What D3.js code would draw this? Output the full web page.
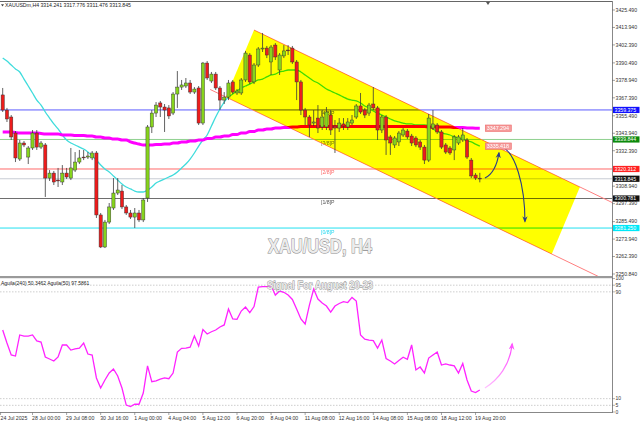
<!DOCTYPE html>
<html><head><meta charset="utf-8">
<script src="https://cdn.jsdelivr.net/npm/d3@7"></script>
<style>
body{margin:0;background:#fff;}
svg{display:block;font-family:"Liberation Sans",Arial,sans-serif;}
</style></head><body>
<svg id="c" width="640" height="427"></svg>
<script>
// ---------- DATA ----------
const opens = [3369.3,3359.3,3354.7,3344.1,3326.9,3337.5,3328.2,3334.2,3344.1,3334.8,3336.2,3314.3,3317.6,3313.0,3311.7,3317.6,3314.3,3319.6,3324.9,3328.2,3328.2,3327.6,3330.9,3289.9,3268.7,3285.2,3294.5,3304.4,3305.7,3295.2,3291.2,3288.5,3291.2,3286.6,3301.1,3348.1,3357.3,3364.0,3361.3,3360.7,3357.3,3369.9,3374.5,3375.2,3377.2,3371.2,3373.9,3350.7,3390.4,3378.5,3383.1,3373.9,3365.9,3367.9,3377.9,3370.6,3370.6,3379.2,3395.7,3377.9,3389.1,3399.7,3400.3,3391.1,3402.3,3385.8,3395.1,3399.0,3400.3,3391.1,3377.9,3359.3,3354.7,3350.7,3354.0,3348.1,3348.1,3356.0,3348.7,3347.4,3350.1,3348.1,3350.7,3354.7,3362.0,3359.3,3357.3,3363.3,3360.7,3346.1,3354.7,3341.5,3336.2,3338.2,3342.8,3345.4,3342.1,3340.8,3338.2,3334.8,3326.2,3347.4,3349.4,3344.8,3336.2,3334.2,3332.9,3337.5,3339.5,3339.5,3326.2,3316.3,3314.241];
const highs = [3373.9,3360.7,3356.0,3345.4,3339.5,3338.8,3335.5,3346.1,3346.1,3338.8,3337.5,3319.6,3319.0,3321.0,3322.9,3321.0,3334.2,3331.5,3332.9,3332.9,3331.5,3332.2,3332.2,3291.2,3286.6,3297.8,3314.3,3314.3,3309.7,3296.5,3293.2,3294.5,3293.2,3301.1,3349.4,3359.3,3364.6,3365.3,3363.3,3362.6,3371.2,3385.1,3379.2,3380.5,3379.2,3374.5,3375.2,3391.1,3391.7,3384.5,3384.5,3375.2,3371.2,3379.2,3379.2,3373.2,3380.5,3398.4,3397.0,3390.4,3401.0,3410.3,3401.7,3402.3,3403.6,3397.0,3402.3,3402.3,3401.7,3392.4,3379.2,3360.7,3356.0,3359.3,3362.6,3359.3,3361.3,3359.3,3352.7,3354.0,3354.0,3354.0,3356.0,3363.3,3370.6,3360.7,3364.0,3374.5,3362.0,3356.0,3356.0,3342.8,3342.1,3345.4,3347.4,3346.8,3343.5,3342.1,3339.5,3336.2,3356.7,3359.3,3350.7,3346.1,3337.5,3335.5,3342.8,3342.8,3347.4,3340.8,3327.6,3317.6,3317.776];
const lows = [3358.0,3351.4,3339.5,3324.9,3325.6,3334.8,3323.6,3332.9,3332.9,3333.5,3301.8,3312.4,3309.7,3308.4,3309.7,3313.7,3313.0,3318.3,3323.6,3326.2,3326.9,3326.2,3287.9,3268.0,3268.0,3283.9,3293.2,3303.1,3293.8,3289.9,3287.2,3281.3,3285.2,3285.2,3298.5,3344.1,3354.7,3354.7,3344.8,3353.4,3356.0,3360.7,3372.6,3373.9,3369.9,3369.9,3349.4,3349.4,3379.2,3377.2,3372.6,3359.3,3363.3,3365.9,3369.9,3369.3,3369.3,3377.9,3376.5,3376.5,3387.8,3397.7,3393.7,3382.5,3392.4,3382.5,3393.7,3395.7,3389.8,3365.9,3356.0,3349.4,3341.5,3348.7,3344.1,3346.1,3346.1,3342.8,3330.9,3344.8,3346.1,3346.1,3349.4,3353.4,3356.7,3354.0,3355.4,3359.3,3339.5,3344.1,3329.6,3329.6,3334.2,3335.5,3341.5,3340.1,3335.5,3334.8,3332.9,3323.6,3324.9,3346.1,3343.5,3333.5,3330.2,3329.6,3326.2,3336.2,3338.2,3326.9,3314.3,3313.0,3311.476];
const closes = [3359.3,3353.4,3341.5,3327.6,3337.5,3336.2,3334.2,3344.1,3334.8,3337.5,3314.3,3317.6,3311.7,3312.4,3317.6,3315.0,3321.0,3324.9,3327.6,3328.0,3328.9,3330.9,3289.9,3268.7,3285.2,3295.2,3304.4,3306.4,3295.2,3291.2,3288.5,3291.2,3286.6,3299.8,3348.1,3357.3,3362.6,3361.3,3359.3,3355.4,3369.9,3374.5,3375.9,3377.2,3371.2,3373.2,3350.7,3390.4,3380.5,3383.1,3373.9,3365.9,3367.9,3377.2,3371.2,3371.9,3379.2,3397.0,3377.9,3389.1,3399.7,3400.3,3395.7,3401.0,3394.4,3395.7,3398.4,3398.8,3391.1,3377.9,3359.3,3354.7,3349.4,3351.4,3347.4,3354.7,3358.0,3346.1,3347.4,3350.7,3348.7,3351.4,3352.7,3362.0,3358.0,3356.0,3362.6,3360.7,3346.1,3354.7,3339.5,3337.5,3340.8,3344.1,3346.1,3341.5,3337.5,3336.2,3334.8,3326.2,3354.0,3350.1,3344.8,3334.8,3331.5,3330.9,3341.5,3341.5,3342.8,3328.2,3315.7,3314.3,3313.845];
const maFast = [3393.7,3391.7,3389.1,3386.5,3384.5,3379.8,3375.2,3370.6,3365.9,3362.6,3358.0,3354.0,3350.1,3346.8,3342.8,3339.5,3337.5,3336.2,3334.8,3333.5,3331.5,3328.9,3326.2,3322.9,3320.3,3318.3,3315.7,3313.0,3310.4,3308.4,3307.1,3305.7,3305.1,3305.1,3306.4,3308.4,3311.0,3312.4,3313.7,3315.0,3316.3,3318.3,3321.0,3323.6,3326.9,3330.9,3335.5,3339.5,3342.8,3348.7,3354.7,3360.0,3364.6,3367.9,3369.9,3371.9,3373.9,3375.2,3376.5,3377.9,3379.2,3379.8,3381.2,3382.5,3383.1,3384.5,3385.1,3385.8,3385.8,3385.8,3384.5,3382.5,3380.5,3378.5,3377.2,3375.2,3373.2,3371.9,3370.6,3369.3,3367.9,3366.6,3365.9,3365.3,3364.0,3362.0,3360.7,3358.7,3357.3,3356.0,3354.7,3353.4,3352.1,3351.4,3350.7,3350.1,3350.1,3349.4,3349.4,3349.4,3348.7,3346.8,3345.4,3344.1,3343.5,3342.8,3341.5,3340.8,3340.1,3338.8,3338.2,3336.8,3335.4];
const maSlow = [3344.8,3344.8,3344.8,3344.4,3344.1,3344.1,3344.1,3344.1,3344.1,3343.8,3343.5,3343.5,3343.5,3343.5,3342.8,3342.8,3342.8,3342.5,3342.5,3342.5,3342.1,3342.1,3341.5,3341.5,3340.8,3340.8,3340.1,3340.1,3339.5,3339.5,3338.2,3337.5,3336.8,3336.2,3336.2,3336.2,3336.5,3336.5,3336.8,3336.8,3337.5,3337.5,3338.2,3338.2,3338.8,3338.8,3339.5,3339.5,3340.5,3340.5,3341.5,3341.5,3342.1,3342.1,3343.1,3343.1,3344.1,3344.1,3345.1,3345.1,3346.1,3346.1,3346.8,3346.8,3347.4,3347.4,3347.7,3347.7,3348.1,3348.1,3348.4,3348.4,3348.4,3348.4,3348.4,3348.4,3348.4,3348.4,3348.4,3348.4,3348.4,3348.4,3348.4,3348.4,3348.4,3348.4,3348.4,3348.4,3348.4,3348.4,3348.4,3348.4,3348.4,3348.4,3348.4,3348.4,3348.4,3348.4,3348.4,3348.4,3348.1,3348.1,3348.1,3348.1,3348.1,3348.1,3347.7,3347.7,3347.7,3347.5,3347.4,3347.3,3347.294];
const osc = [61.4,51.7,42.7,41.9,57.7,56.9,56.9,57.7,53.2,52.4,41.2,39.7,38.2,41.2,50.2,50.2,46.4,47.2,47.9,51.7,43.4,42.7,25.5,18.0,24.0,29.2,32.2,27.0,18.0,5.2,4.1,5.8,5.8,14.2,34.5,22.7,23.4,24.7,25.5,24.9,29.2,44.9,47.7,47.9,48.5,56.9,49.4,61.8,58.4,60.1,61.4,63.7,65.2,77.1,69.7,69.4,75.6,78.6,74.5,79.0,93.6,93.9,93.9,94.7,87.6,90.6,89.7,87.6,84.3,77.1,69.7,65.9,80.1,92.1,84.6,81.6,79.4,74.9,79.4,81.3,82.6,82.0,85.8,83.1,57.7,54.5,53.9,53.4,47.9,53.9,40.1,38.2,36.0,38.6,41.0,39.5,50.2,31.5,33.7,29.2,40.4,42.7,44.9,35.2,36.0,35.2,34.5,29.2,36.3,24.0,15.7,14.5,16.5];
const priceTicks = ["3425.490","3413.940","3402.390","3390.490","3378.940","3367.390","3355.490","3343.940","3332.390","3308.940","3297.390","3285.490","3273.940","3262.390","3250.840"];
const timeLabels = ["24 Jul 2025","28 Jul 00:00","29 Jul 08:00","30 Jul 16:00","1 Aug 00:00","4 Aug 04:00","5 Aug 12:00","6 Aug 20:00","8 Aug 04:00","11 Aug 08:00","12 Aug 16:00","14 Aug 08:00","15 Aug 08:00","18 Aug 12:00","19 Aug 20:00"];
const timeLabelBars = [-0.5,7,15,23,31,39,47,55,63,71,79,87,95,103,111];
const murrayLevels = [3359.375,3339.844,3320.312,3300.781,3281.250];
const murrayNames = ["[4/8]P","[3/8]P","[2/8]P","[1/8]P","[0/8]P"];
const murrayColors = ["#5b5bff","#8fd08f","#ff6a6a","#6e6e6e","#22e0f0"];
const murrayTextColors = ["#5b5bff","#777777","#ff6a6a","#555555","#22d8f0"];
const murrayLabelBg = ["#1010ff","#0b8a0b","#ff2020","#111111","#00e8f8"];
const lastPrice = 3313.845;
const oscLevels = [95,90,10,5];
const oscTicks = [100,95,90,10,5,0];
// channel anchors: [bar, price]
const chanA = [59, 3412.25], chanB = [135.5, 3308.4], chanD = [52.4, 3367.9];
const lowerLineStartBar = 48.7;
// arrows [bar, price]
const arrowUp = [[113.2,3314.3],[115.8,3318.0],[116.5,3331.0]];
const arrowDown = [[117.2,3334.8],[120.3,3331.5],[122.6,3309.7],[122.6,3285.6]];
const oscArrow = [[113.2,18],[116.3,24],[119.1,35],[119.6,51]];

// ---------- SCALES ----------
const svg = d3.select("#c");
const N = closes.length;
const PR = 612;
const x = d3.scaleLinear().domain([0, 112]).range([2.7, 479.8]);
const y = d3.scaleLinear().domain([3250.84, 3425.49]).range([274, 10]);
const yo = d3.scaleLinear().domain([0, 100]).range([412, 278.5]);

const defs = svg.append("defs");
defs.append("clipPath").attr("id","cm").append("rect").attr("x",0).attr("y",2).attr("width",PR).attr("height",274);
defs.append("clipPath").attr("id","co").append("rect").attr("x",0).attr("y",279).attr("width",PR).attr("height",133);
const mk = (id,col)=>defs.append("marker").attr("id",id).attr("viewBox","0 0 10 10").attr("refX",8).attr("refY",5)
  .attr("markerWidth",6).attr("markerHeight",6).attr("orient","auto-start-reverse")
  .append("path").attr("d","M0,1 L10,5 L0,9 L3,5 Z").attr("fill",col);
mk("ab","#2b3f86"); mk("ap","#ff55ff");
const gr = defs.append("linearGradient").attr("id","pg").attr("x1","0").attr("y1","1").attr("x2","1").attr("y2","0");
gr.append("stop").attr("offset","0").attr("stop-color","#ffc4ff");
gr.append("stop").attr("offset","1").attr("stop-color","#ff44ff");

svg.append("rect").attr("width",640).attr("height",427).attr("fill","#fff");

// ---------- MAIN PANEL ----------
const main = svg.append("g").attr("clip-path","url(#cm)");
murrayLevels.forEach((p,k)=>{
  main.append("line").attr("x1",0).attr("x2",PR).attr("y1",y(p)).attr("y2",y(p))
    .attr("stroke",murrayColors[k]).attr("stroke-width",1);
});
main.append("line").attr("x1",0).attr("x2",PR).attr("y1",y(lastPrice)).attr("y2",y(lastPrice))
  .attr("stroke","#c8ccd4").attr("stroke-width",1);
murrayLevels.forEach((p,k)=>{
  main.append("text").attr("x",321).attr("y",y(p)+5.5).attr("font-size",5.2)
    .attr("fill",murrayTextColors[k]).text(murrayNames[k]);
});
const slope = (chanB[1]-chanA[1])/(chanB[0]-chanA[0]);
const topEnd = 150, lowEnd = 150;
main.append("line").attr("x1",x(chanA[0])).attr("y1",y(chanA[1]))
  .attr("x2",x(topEnd)).attr("y2",y(chanA[1]+slope*(topEnd-chanA[0])))
  .attr("stroke","#ff7f7f").attr("stroke-width",1);
main.append("line").attr("x1",x(lowerLineStartBar)).attr("y1",y(chanD[1]+slope*(lowerLineStartBar-chanD[0])))
  .attr("x2",x(lowEnd)).attr("y2",y(chanD[1]+slope*(lowEnd-chanD[0])))
  .attr("stroke","#ff7f7f").attr("stroke-width",1);
const lineGen = d3.line().x((d,i)=>x(i)).y(d=>y(d)).curve(d3.curveMonotoneX);
main.append("path").attr("d",lineGen(maFast)).attr("fill","none").attr("stroke","#3fdcdc").attr("stroke-width",1.3);
main.append("path").attr("d",lineGen(maSlow)).attr("fill","none").attr("stroke","#ff00ff").attr("stroke-width",3);
const chanC = [chanB[0]+chanD[0]-chanA[0], chanB[1]+chanD[1]-chanA[1]];
main.append("polygon").attr("points",[chanA,chanB,chanC,chanD].map(d=>x(d[0])+","+y(d[1])).join(" "))
  .attr("fill","#ffff00").style("mix-blend-mode","multiply");
const cg = main.append("g").selectAll("g").data(d3.range(N)).join("g");
cg.append("line").attr("x1",i=>x(i)).attr("x2",i=>x(i)).attr("y1",i=>y(highs[i])).attr("y2",i=>y(lows[i]))
  .attr("stroke","#3a3a3a").attr("stroke-width",0.8);
cg.append("rect").attr("x",i=>x(i)-1.6).attr("width",3.2)
  .attr("y",i=>y(Math.max(opens[i],closes[i])))
  .attr("height",i=>Math.max(0.8,Math.abs(y(opens[i])-y(closes[i]))))
  .attr("fill",i=>closes[i]>=opens[i]?"#86d41c":"#ec1c1c").attr("stroke","#333").attr("stroke-width",0.45);
const P = d=>[x(d[0]),y(d[1])];
const a1=arrowUp.map(P), a2=arrowDown.map(P);
main.append("path").attr("d",`M${a1[0]} Q${a1[1]} ${a1[2]}`).attr("fill","none").attr("stroke","#2b3f86").attr("stroke-width",1.1).attr("marker-end","url(#ab)");
main.append("path").attr("d",`M${a2[0]} C${a2[1]} ${a2[2]} ${a2[3]}`).attr("fill","none").attr("stroke","#2b3f86").attr("stroke-width",1.1).attr("marker-end","url(#ab)");
[[maSlow[N-1],"3347.294"],[maFast[N-1],"3335.418"]].forEach(([v,t])=>{
  main.append("rect").attr("x",x(N-1)+5.5).attr("y",y(v)-3.2).attr("width",26).attr("height",6.4)
    .attr("fill","#f59a9a").attr("stroke","#ee6a6a").attr("stroke-width",0.6);
  main.append("text").attr("x",x(N-1)+7).attr("y",y(v)+1.9).attr("font-size",5.3).attr("fill","#fff").text(t);
});
svg.append("text").attr("x",320).attr("y",253).attr("text-anchor","middle").attr("font-size",21).attr("font-weight","bold")
  .attr("textLength",104).attr("lengthAdjust","spacingAndGlyphs")
  .attr("fill","#ececec").attr("stroke","#8a8a8a").attr("stroke-width",1.1).attr("paint-order","stroke").text("XAU/USD, H4");

// ---------- FRAME / AXIS ----------
svg.append("line").attr("x1",0).attr("x2",PR).attr("y1",1.5).attr("y2",1.5).attr("stroke","#666").attr("stroke-width",1);
svg.append("path").attr("d","M486,2 L490,2 L488,5 Z").attr("fill","#555");
svg.append("line").attr("x1",PR+0.5).attr("x2",PR+0.5).attr("y1",1).attr("y2",413).attr("stroke","#888").attr("stroke-width",1);
svg.append("rect").attr("x",0).attr("y",276).attr("width",PR).attr("height",2.2).attr("fill","#9a9a9a");
svg.append("line").attr("x1",0).attr("x2",PR).attr("y1",412.5).attr("y2",412.5).attr("stroke","#888").attr("stroke-width",1);
priceTicks.forEach(t=>{
  const v=+t;
  svg.append("line").attr("x1",PR).attr("x2",PR+3).attr("y1",y(v)).attr("y2",y(v)).attr("stroke","#666").attr("stroke-width",0.6);
  svg.append("text").attr("x",PR+3.5).attr("y",y(v)+1.8).attr("font-size",5.2).attr("fill","#333").text(t);
});
const colorLabels = murrayLevels.map((p,k)=>[p,p.toFixed(3),murrayLabelBg[k]]);
colorLabels.push([lastPrice,lastPrice.toFixed(3),"#111"]);
colorLabels.forEach(([p,t,c])=>{
  svg.append("rect").attr("x",PR+1).attr("y",y(p)-3.1).attr("width",26.5).attr("height",6.2).attr("fill",c);
  svg.append("text").attr("x",PR+2.5).attr("y",y(p)+1.9).attr("font-size",5.2).attr("fill","#fff").text(t);
});
svg.append("path").attr("d","M1,4.2 L4,4.2 L2.5,6.6 Z").attr("fill","#444");
svg.append("text").attr("x",5).attr("y",7.2).attr("font-size",5.2).attr("fill","#222")
  .text("XAUUSDm,H4  3314.241 3317.776 3311.476 3313.845");

// ---------- OSCILLATOR PANEL ----------
const og = svg.append("g").attr("clip-path","url(#co)");
oscLevels.forEach(v=>{
  og.append("line").attr("x1",0).attr("x2",PR).attr("y1",yo(v)).attr("y2",yo(v))
    .attr("stroke","#b8b8b8").attr("stroke-width",0.7).attr("stroke-dasharray","1.5,1.5");
});
og.append("path").attr("d",d3.line().x((d,i)=>x(i)).y(d=>yo(d))(osc)).attr("fill","none").attr("stroke","#ff22ff").attr("stroke-width",1.3);
const pa = oscArrow.map(d=>[x(d[0]),yo(d[1])]);
og.append("path").attr("d",`M${pa[0]} C${pa[1]} ${pa[2]} ${pa[3]}`).attr("fill","none").attr("stroke","url(#pg)").attr("stroke-width",1.2).attr("marker-end","url(#ap)");
svg.append("text").attr("x",1).attr("y",284.5).attr("font-size",5).attr("fill","#222").text("Aguila(240) 50.3462  Aguila(50) 97.5861");
svg.append("text").attr("x",320).attr("y",288.5).attr("text-anchor","middle").attr("font-size",10.5).attr("font-weight","bold")
  .attr("textLength",106).attr("lengthAdjust","spacingAndGlyphs")
  .attr("fill","#ececec").attr("stroke","#8a8a8a").attr("stroke-width",0.8).attr("paint-order","stroke").text("Signal For August 20-23");
oscTicks.forEach(v=>{
  svg.append("line").attr("x1",PR).attr("x2",PR+3).attr("y1",yo(v)).attr("y2",yo(v)).attr("stroke","#666").attr("stroke-width",0.5);
  svg.append("text").attr("x",PR+3.5).attr("y",yo(v)+1.8).attr("font-size",5).attr("fill","#333").text(v);
});
timeLabels.forEach((t,k)=>{
  const xx = x(timeLabelBars[k]);
  svg.append("line").attr("x1",xx).attr("x2",xx).attr("y1",412.5).attr("y2",415).attr("stroke","#666").attr("stroke-width",0.6);
  svg.append("text").attr("x",Math.max(0.5,xx-0.5)).attr("y",420).attr("font-size",5.2).attr("fill","#333").text(t);
});
</script>
</body></html>
